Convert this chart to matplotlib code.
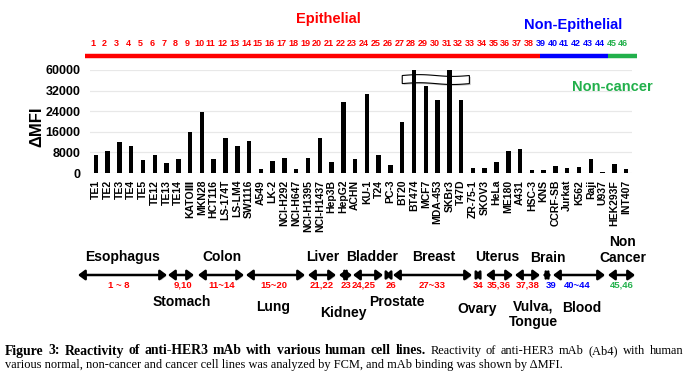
import numpy as np
import matplotlib
matplotlib.use("Agg")
import matplotlib.pyplot as plt
from matplotlib.patches import Polygon, FancyArrowPatch
from matplotlib.lines import Line2D
import matplotlib.patheffects as pe

plt.rcParams['font.family'] = ['Liberation Sans', 'DejaVu Sans']

# ---------------- data ----------------
cell_lines = ["TE1", "TE2", "TE3", "TE4", "TE5", "TE12", "TE13", "TE14",
              "KATOⅢ", "MKN28", "HCT116", "LS-174T", "LS-LM4", "SW1116",
              "A549", "LK-2", "NCI-H292", "NCI-H647", "NCI-H1395", "NCI-H1437",
              "Hep3B", "HepG2", "ACHN", "KU-1", "T24", "PC-3",
              "BT20", "BT474", "MCF7", "MDA-453", "SKBr3", "T47D", "ZR-75-1",
              "SKOV3", "HeLa", "ME180", "A431", "HSC-3", "KNS",
              "CCRF-SB", "Jurkat", "K562", "Raji", "U937", "HEK293F", "INT407"]
mfi_values = [7000, 8650, 12150, 10500, 5050, 7000, 3770, 5440,
              16040, 23570, 5320, 13470, 10600, 12540,
              1550, 4660, 5700, 1550, 5940, 13470,
              4390, 27450, 5440, 30560, 7000, 3100,
              19690, 60000, 38000, 28350, 60000, 28350, 1830,
              1830, 4150, 8660, 9440, 1050, 1280,
              2600, 1940, 2330, 5550, 300, 3380, 1440]
yticks = [0, 8000, 16000, 24000, 32000, 60000]
class_names = ["Epithelial", "Non-Epithelial", "Non-cancer"]
class_sizes = [38, 6, 2]
class_colors = ["#FF0000", "#0000FF", "#22B04B"]

upper_groups = ["Esophagus", "Colon", "Liver", "Bladder", "Breast", "Uterus", "Brain", "Non\nCancer"]
lower_groups = ["Stomach", "Lung", "Kidney", "Prostate", "Ovary", "Vulva,\nTongue", "Blood"]
range_labels = ["1 ~ 8", "9,10", "11~14", "15~20", "21,22", "23", "24,25", "26",
                "27~33", "34", "35,36", "37,38", "39", "40~44", "45,46"]
range_colors = ["#FF0000"] * 12 + ["#0000FF", "#0000FF", "#22B04B"]

# ---------------- layout (pixels, top-origin) ----------------
W, H = 693, 377
upper_pos = [(123, 257), (222, 257), (323, 257), (372, 257), (434, 257), (497, 257), (548, 258), (623, 250)]
lower_pos = [(182, 302), (273, 307), (343, 313), (397, 302), (477, 309), (533, 314), (582, 308)]
range_x = [119, 183, 222, 274, 322, 346, 364, 391, 432, 478, 499, 528, 551, 577, 622]
arrow_segs = [(78, 167), (168, 194), (198, 244), (246, 305), (308, 336), (339, 352), (353, 383),
              (386, 391), (393, 472), (475, 481), (486, 513), (515, 540), (543, 551), (553, 605), (608, 635)]

def fx(x):
    return x / W

def fy(y):
    return 1 - y / H

fig = plt.figure(figsize=(6.93, 3.77), dpi=100)
ax_l, ax_r = 90, 632
ax = fig.add_axes([fx(ax_l), fy(173), fx(ax_r) - fx(ax_l), fy(70) - fy(173)])

def fwd(v):
    v = np.asarray(v, dtype=float)
    return np.where(v <= 32000, v, 32000 + (v - 32000) * 8000 / 28000)

def inv(u):
    u = np.asarray(u, dtype=float)
    return np.where(u <= 32000, u, 32000 + (u - 32000) * 28000 / 8000)

ax.set_yscale('function', functions=(fwd, inv))
x = np.arange(len(cell_lines))
ax.bar(x, mfi_values, width=0.38, color='black', zorder=3)
ax.set_xlim(-0.5, len(cell_lines) - 0.5)
ax.set_ylim(0, 60000)
ax.set_yticks(yticks)
ax.set_yticklabels([str(t) for t in yticks], fontsize=9, fontweight='bold')
ax.set_xticks(x)
ax.set_xticklabels(cell_lines, rotation=90, fontsize=7.5, fontweight='bold', va='top')
ax.tick_params(axis='both', length=0)
ax.tick_params(axis='y', pad=7)
ax.tick_params(axis='x', pad=5)
ax.grid(axis='y', color='#E8E8E8', lw=0.9, zorder=0)
for s in ax.spines.values():
    s.set_visible(False)
ax.set_ylabel("ΔMFI", fontsize=12, fontweight='bold', labelpad=2)
ax.yaxis.set_label_coords((44 - ax_l) / (ax_r - ax_l), 0.45)

# break symbol (wavy white band)
xs = np.linspace(26.0, 31.7, 40)
top = 52500 + 1200 * np.sin((xs - 26.0) * 1.1)
bot = 41500 + 1200 * np.sin((xs - 26.0) * 1.1)
poly = np.vstack([np.column_stack([xs, top]), np.column_stack([xs[::-1], bot[::-1]])])
ax.add_patch(Polygon(poly, closed=True, facecolor='white', edgecolor='black', lw=0.8, zorder=2,
                     path_effects=[pe.SimplePatchShadow(offset=(1, -1), alpha=0.3), pe.Normal()]))

# numbers above bars
cum = np.cumsum([0] + class_sizes)
xt = ax.get_xaxis_transform()
for ci, (n, c) in enumerate(zip(class_sizes, class_colors)):
    for i in range(cum[ci], cum[ci + 1]):
        ax.text(i - 0.25, 1 + 27 / 103, str(i + 1), transform=xt, ha='center', va='center',
                fontsize=6.5, fontweight='bold', color=c, clip_on=False)

# colored class line
bounds_px = [85, 540, 608, 637]
for ci, c in enumerate(class_colors):
    fig.add_artist(Line2D([fx(bounds_px[ci]), fx(bounds_px[ci + 1])], [fy(56), fy(56)],
                          color=c, lw=3.2, solid_capstyle='butt'))

# class titles
fig.text(fx(328), fy(19), class_names[0], ha='center', va='center', fontsize=10.5, fontweight='bold', color=class_colors[0])
fig.text(fx(573), fy(25), class_names[1], ha='center', va='center', fontsize=10.5, fontweight='bold', color=class_colors[1])
fig.text(fx(612), fy(87), class_names[2], ha='center', va='center', fontsize=10.5, fontweight='bold', color=class_colors[2])

# tissue annotations
for (x0, x1) in arrow_segs:
    ln = x1 - x0
    style = '<|-|>,head_length=0.4,head_width=0.3' if ln > 12 else '<|-|>,head_length=0.25,head_width=0.25'
    fig.add_artist(FancyArrowPatch(
        (fx(x0), fy(275)), (fx(x1), fy(275)), transform=fig.transFigure,
        arrowstyle=style, mutation_scale=10, color='black', lw=1.8, shrinkA=0, shrinkB=0,
        path_effects=[pe.SimplePatchShadow(offset=(1, -1), alpha=0.25), pe.Normal()]))

for name, (px, py) in zip(upper_groups, upper_pos):
    fig.text(fx(px), fy(py), name, ha='center', va='center', fontsize=10, fontweight='bold',
             linespacing=1.15)
for name, (px, py) in zip(lower_groups, lower_pos):
    fig.text(fx(px), fy(py), name, ha='center', va='center', fontsize=10, fontweight='bold',
             linespacing=1.15)
for lab, px, c in zip(range_labels, range_x, range_colors):
    fig.text(fx(px), fy(285), lab, ha='center', va='center', fontsize=6.8, fontweight='bold', color=c)

# caption (line 1 justified)
cap_bold = "Figure 3: Reactivity of anti-HER3 mAb with various human cell lines."
cap_rest = "Reactivity of anti-HER3 mAb (Ab4) with human"
cap_line2 = "various normal, non-cancer and cancer cell lines was analyzed by FCM, and mAb binding was shown by ΔMFI."
serif = ['Liberation Serif', 'DejaVu Serif']
renderer = fig.canvas.get_renderer()
words = [(w, 'bold', 9.9) for w in cap_bold.split()] + [(w, 'normal', 8.9) for w in cap_rest.split()]
texts = []
widths = []
for w, wt, fs in words:
    t = fig.text(0, fy(351), w, ha='left', va='center', fontsize=fs, fontweight=wt, family=serif)
    widths.append(t.get_window_extent(renderer).width)
    texts.append(t)
x_start, x_end = 5, 683
gap = (x_end - x_start - sum(widths)) / (len(words) - 1)
cx = x_start
for t, wdt in zip(texts, widths):
    t.set_x(fx(cx))
    cx += wdt + gap
fig.text(fx(5), fy(365), cap_line2, ha='left', va='center', fontsize=8.9, family=serif)

fig.savefig("out.png", dpi=100)
